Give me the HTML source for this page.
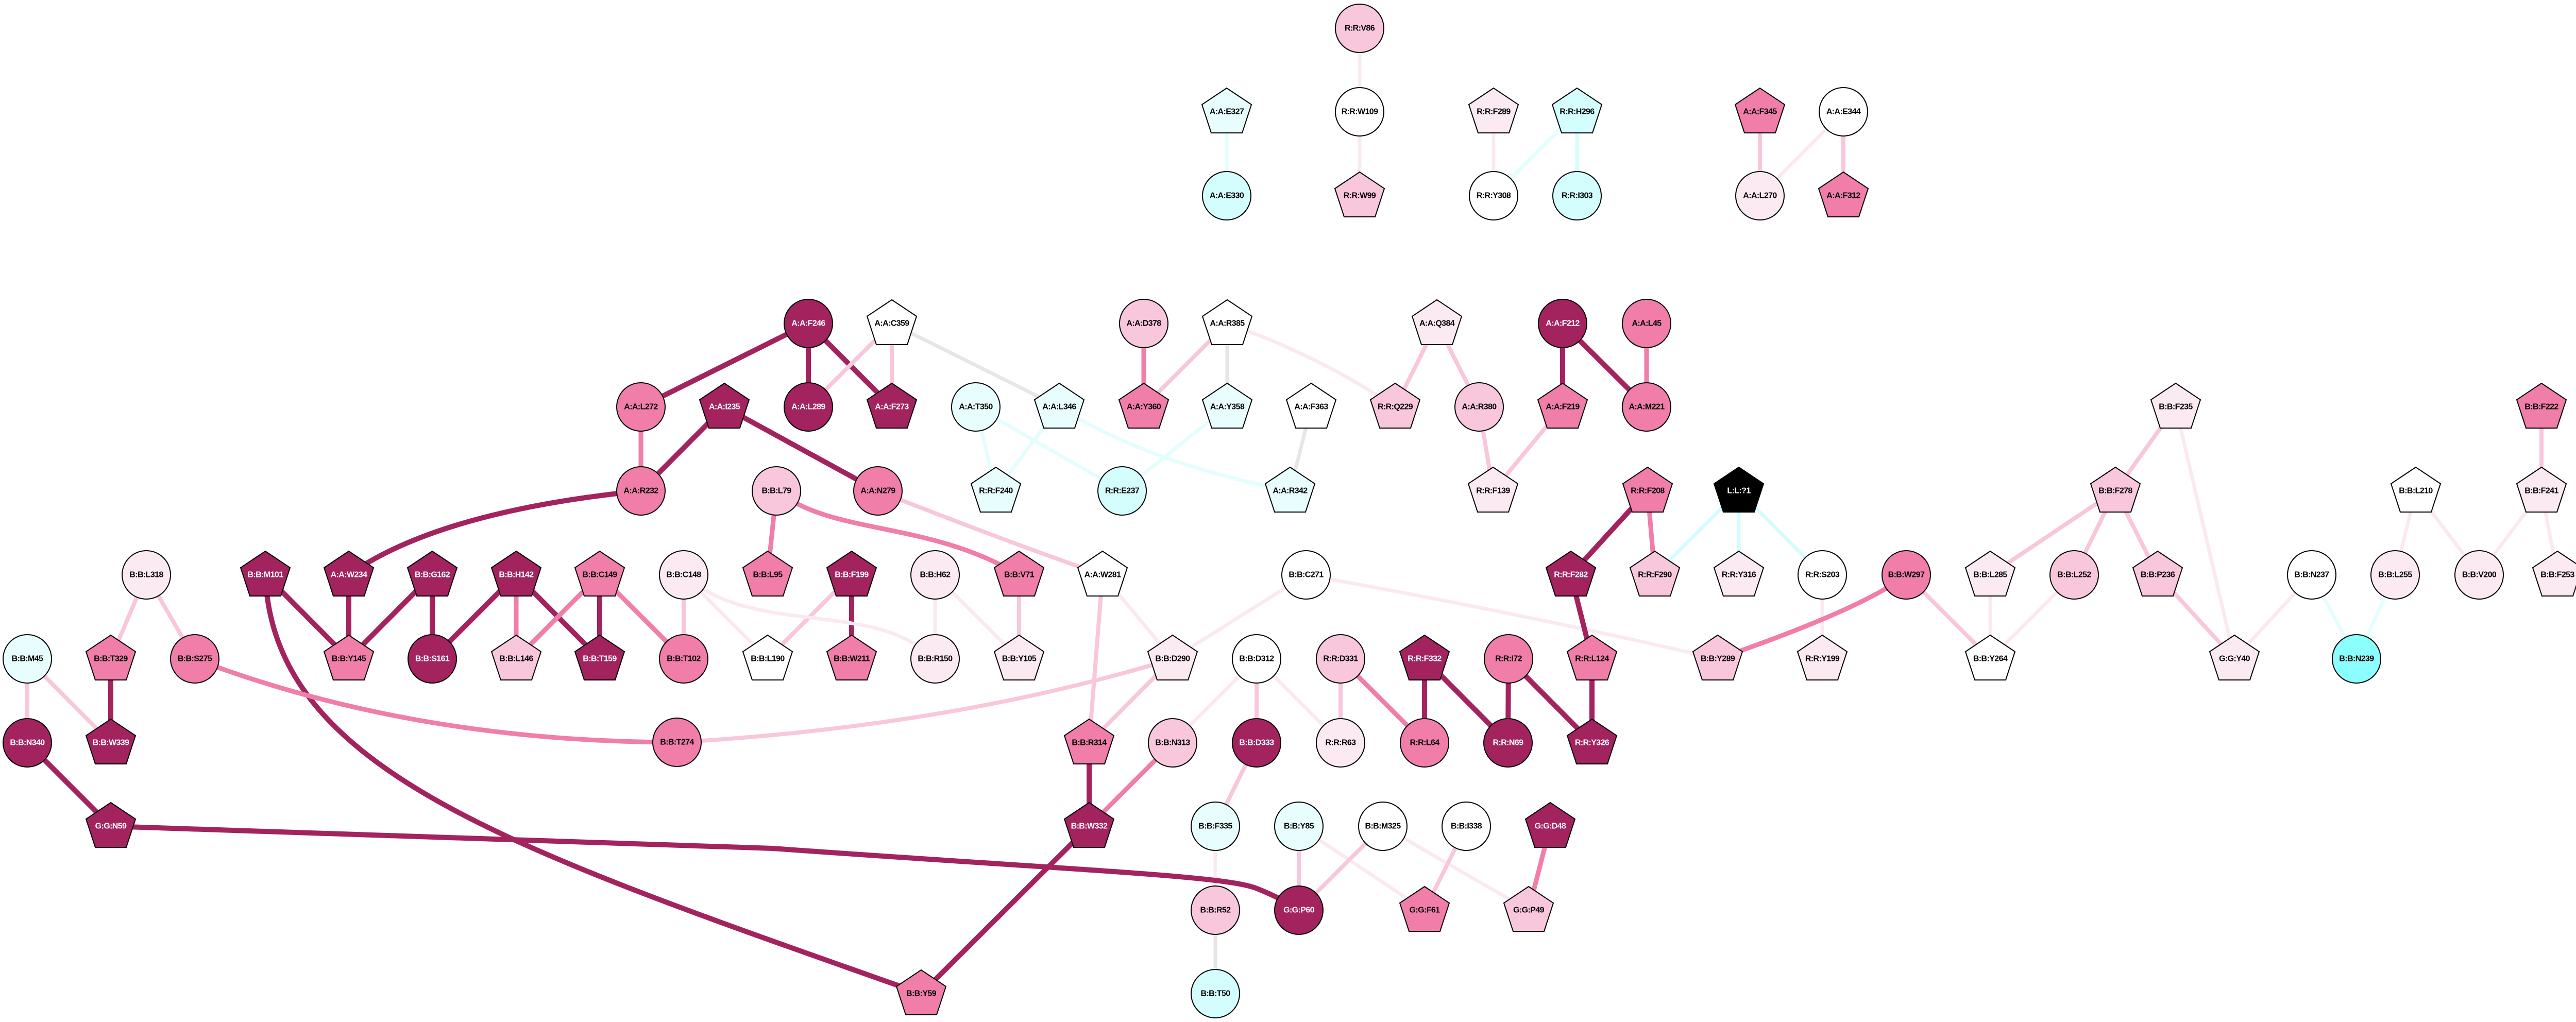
<!DOCTYPE html>
<html><head><meta charset="utf-8"><style>
html,body{margin:0;padding:0;background:#fff;overflow:hidden}
svg{display:block}
text{font-family:"Liberation Sans",sans-serif;font-weight:bold;font-size:16px;text-anchor:middle;dominant-baseline:central;fill:#000;letter-spacing:-0.6px}
.n circle,.n polygon{stroke:#000;stroke-width:2}
.d circle,.d polygon{fill:#a3235f}.d text{fill:#fff}
.m circle,.m polygon{fill:#f07ea9}
.p circle,.p polygon{fill:#f8c7dc}
.l circle,.l polygon{fill:#fbeaf2}
.w circle,.w polygon{fill:#fff}
.c circle,.c polygon{fill:#e8fdfd}
.y circle,.y polygon{fill:#d4fdfe}
.b circle,.b polygon{fill:#8afffe}
.k circle,.k polygon{fill:#000}.k text{fill:#fff}
line,path{fill:none;stroke-linecap:butt}
.ed{stroke:#a3235f;stroke-width:10}
.em{stroke:#f07ea9;stroke-width:9}
.ep{stroke:#f8c7dc;stroke-width:8}
.el{stroke:#fbe9f1;stroke-width:7}
.ec{stroke:#e4fdfd;stroke-width:7}
.ey{stroke:#d4fdfe;stroke-width:7}
.eg{stroke:#e6e6e6;stroke-width:7}
</style></head><body>
<svg width="5028" height="1984" viewBox="0 0 5028 1984" xmlns="http://www.w3.org/2000/svg">
<g>
<line class="el" x1="2639" y1="55" x2="2639" y2="217"/>
<line class="el" x1="2639" y1="217" x2="2639" y2="380"/>
<line class="ec" x1="2381" y1="217" x2="2381" y2="380"/>
<line class="el" x1="2899" y1="217" x2="2899" y2="380"/>
<line class="ec" x1="3061" y1="217" x2="2899" y2="380"/>
<line class="ey" x1="3061" y1="217" x2="3061" y2="380"/>
<line class="ep" x1="3416" y1="217" x2="3416" y2="380"/>
<line class="el" x1="3578" y1="217" x2="3416" y2="380"/>
<line class="ep" x1="3578" y1="217" x2="3578" y2="380"/>
<line class="ed" x1="1569" y1="628" x2="1244" y2="790"/>
<line class="ed" x1="1569" y1="628" x2="1569" y2="790"/>
<line class="ed" x1="1569" y1="628" x2="1731" y2="790"/>
<line class="ep" x1="1731" y1="628" x2="1569" y2="790"/>
<line class="ep" x1="1731" y1="628" x2="1731" y2="790"/>
<line class="eg" x1="1731" y1="628" x2="2056" y2="790"/>
<line class="em" x1="1244" y1="790" x2="1244" y2="953"/>
<line class="ed" x1="1406" y1="790" x2="1244" y2="953"/>
<line class="ed" x1="1406" y1="790" x2="1704" y2="953"/>
<path class="ed" d="M1244,953 Q850,993 677,1116"/>
<line class="ec" x1="1894" y1="790" x2="1933" y2="953"/>
<line class="ec" x1="1894" y1="790" x2="2178" y2="953"/>
<line class="ec" x1="2056" y1="790" x2="1933" y2="953"/>
<path class="ec" d="M2056,790 Q2230,900 2504,953"/>
<line class="em" x1="2220" y1="628" x2="2220" y2="790"/>
<line class="ep" x1="2382" y1="628" x2="2220" y2="790"/>
<line class="eg" x1="2382" y1="628" x2="2382" y2="790"/>
<path class="el" d="M2382,628 Q2560,690 2708,790"/>
<line class="ec" x1="2382" y1="790" x2="2178" y2="953"/>
<line class="eg" x1="2545" y1="790" x2="2504" y2="953"/>
<line class="ep" x1="2789" y1="628" x2="2708" y2="790"/>
<line class="ep" x1="2789" y1="628" x2="2871" y2="790"/>
<line class="ep" x1="2871" y1="790" x2="2898" y2="953"/>
<line class="ep" x1="3033" y1="790" x2="2898" y2="953"/>
<line class="ed" x1="3033" y1="628" x2="3033" y2="790"/>
<line class="ed" x1="3033" y1="628" x2="3196" y2="790"/>
<line class="em" x1="3196" y1="628" x2="3196" y2="790"/>
<line class="em" x1="1507" y1="953" x2="1490" y2="1116"/>
<path class="em" d="M1507,953 C1620,1040 1800,1010 1978,1116"/>
<path class="ep" d="M1704,953 Q1950,1050 2140,1116"/>
<line class="ed" x1="1653" y1="1116" x2="1653" y2="1279"/>
<line class="ep" x1="1653" y1="1116" x2="1490" y2="1279"/>
<line class="ep" x1="1327" y1="1116" x2="1327" y2="1279"/>
<line class="el" x1="1327" y1="1116" x2="1490" y2="1279"/>
<path class="el" d="M1327,1116 C1420,1200 1560,1190 1680,1215 Q1760,1230 1815,1279"/>
<line class="el" x1="1815" y1="1116" x2="1815" y2="1279"/>
<line class="el" x1="1815" y1="1116" x2="1978" y2="1279"/>
<line class="ep" x1="1978" y1="1116" x2="1978" y2="1279"/>
<line class="ep" x1="2140" y1="1116" x2="2114" y2="1442"/>
<line class="el" x1="2140" y1="1116" x2="2276" y2="1279"/>
<line class="el" x1="2535" y1="1116" x2="2276" y2="1279"/>
<path class="el" d="M2535,1116 Q2950,1190 3334,1279"/>
<path class="ep" d="M2276,1279 Q1850,1410 1314,1441"/>
<line class="ep" x1="2276" y1="1279" x2="2114" y2="1442"/>
<line class="el" x1="2439" y1="1279" x2="2276" y2="1442"/>
<line class="ep" x1="2439" y1="1279" x2="2439" y2="1442"/>
<line class="el" x1="2439" y1="1279" x2="2602" y2="1442"/>
<line class="ep" x1="2602" y1="1279" x2="2602" y2="1442"/>
<line class="em" x1="2602" y1="1279" x2="2765" y2="1442"/>
<line class="ed" x1="2765" y1="1279" x2="2765" y2="1442"/>
<line class="ed" x1="2765" y1="1279" x2="2927" y2="1442"/>
<line class="ed" x1="2928" y1="1279" x2="2927" y2="1442"/>
<line class="ed" x1="2928" y1="1279" x2="3090" y2="1442"/>
<line class="ed" x1="3090" y1="1279" x2="3090" y2="1442"/>
<line class="ed" x1="3049" y1="1116" x2="3090" y2="1279"/>
<line class="ed" x1="3198" y1="953" x2="3049" y2="1116"/>
<line class="em" x1="3198" y1="953" x2="3212" y2="1116"/>
<line class="ey" x1="3375" y1="953" x2="3212" y2="1116"/>
<line class="ey" x1="3375" y1="953" x2="3375" y2="1116"/>
<line class="ey" x1="3375" y1="953" x2="3537" y2="1116"/>
<line class="el" x1="3537" y1="1116" x2="3537" y2="1279"/>
<path class="em" d="M3700,1116 Q3620,1180 3334,1279"/>
<line class="ep" x1="3700" y1="1116" x2="3863" y2="1279"/>
<line class="el" x1="3863" y1="1116" x2="3863" y2="1279"/>
<line class="el" x1="4026" y1="1116" x2="3863" y2="1279"/>
<line class="ep" x1="4106" y1="953" x2="3863" y2="1116"/>
<line class="ep" x1="4106" y1="953" x2="4026" y2="1116"/>
<line class="ep" x1="4106" y1="953" x2="4188" y2="1116"/>
<line class="ep" x1="4223" y1="790" x2="4106" y2="953"/>
<line class="el" x1="4223" y1="790" x2="4337" y2="1279"/>
<line class="ep" x1="4188" y1="1116" x2="4337" y2="1279"/>
<line class="el" x1="4487" y1="1116" x2="4337" y2="1279"/>
<line class="ec" x1="4487" y1="1116" x2="4574" y2="1279"/>
<line class="ec" x1="4649" y1="1116" x2="4574" y2="1279"/>
<line class="el" x1="4689" y1="953" x2="4649" y2="1116"/>
<line class="el" x1="4689" y1="953" x2="4812" y2="1116"/>
<line class="el" x1="4933" y1="953" x2="4812" y2="1116"/>
<line class="el" x1="4933" y1="953" x2="4964" y2="1116"/>
<line class="ep" x1="4933" y1="790" x2="4933" y2="953"/>
<line class="ed" x1="2114" y1="1442" x2="2114" y2="1604"/>
<line class="em" x1="2276" y1="1442" x2="2114" y2="1604"/>
<line class="ep" x1="2439" y1="1442" x2="2359" y2="1604"/>
<line class="el" x1="2359" y1="1604" x2="2359" y2="1767"/>
<line class="eg" x1="2359" y1="1767" x2="2359" y2="1929"/>
<line class="ep" x1="2521" y1="1604" x2="2521" y2="1767"/>
<line class="el" x1="2521" y1="1604" x2="2765" y2="1767"/>
<line class="ep" x1="2684" y1="1604" x2="2521" y2="1767"/>
<line class="el" x1="2684" y1="1604" x2="2967" y2="1767"/>
<line class="ep" x1="2846" y1="1604" x2="2765" y2="1767"/>
<line class="em" x1="3009" y1="1604" x2="2967" y2="1767"/>
<line class="ed" x1="2114" y1="1604" x2="1788" y2="1929"/>
<path class="ed" d="M215,1604 L1500,1647 C2100,1690 2380,1700 2440,1725 Q2490,1745 2521,1767"/>
<path class="ed" d="M515,1116 C530,1500 1000,1650 1788,1929"/>
<line class="ep" x1="284" y1="1116" x2="215" y2="1279"/>
<line class="ep" x1="284" y1="1116" x2="378" y2="1279"/>
<line class="ep" x1="53" y1="1279" x2="53" y2="1442"/>
<line class="ep" x1="53" y1="1279" x2="215" y2="1442"/>
<line class="ed" x1="215" y1="1279" x2="215" y2="1442"/>
<line class="ed" x1="53" y1="1442" x2="215" y2="1604"/>
<path class="em" d="M378,1279 Q800,1440 1314,1441"/>
<line class="ed" x1="515" y1="1116" x2="677" y2="1279"/>
<line class="ed" x1="677" y1="1116" x2="677" y2="1279"/>
<line class="ed" x1="839" y1="1116" x2="677" y2="1279"/>
<line class="ed" x1="839" y1="1116" x2="839" y2="1279"/>
<line class="ed" x1="1002" y1="1116" x2="839" y2="1279"/>
<line class="em" x1="1002" y1="1116" x2="1002" y2="1279"/>
<line class="ed" x1="1002" y1="1116" x2="1164" y2="1279"/>
<line class="em" x1="1164" y1="1116" x2="1002" y2="1279"/>
<line class="ed" x1="1164" y1="1116" x2="1164" y2="1279"/>
<line class="em" x1="1164" y1="1116" x2="1327" y2="1279"/>
</g>
<g class="nodes">
<g class="n p" transform="translate(2639,55)"><circle r="47"/><text>R:R:V86</text></g>
<g class="n w" transform="translate(2639,217)"><circle r="47"/><text>R:R:W109</text></g>
<g class="n p" transform="translate(2639,380)"><polygon points="0,-46 48,-14 30,41 -30,41 -48,-14"/><text>R:R:W99</text></g>
<g class="n c" transform="translate(2381,217)"><polygon points="0,-46 48,-14 30,41 -30,41 -48,-14"/><text>A:A:E327</text></g>
<g class="n y" transform="translate(2381,380)"><circle r="47"/><text>A:A:E330</text></g>
<g class="n l" transform="translate(2899,217)"><polygon points="0,-46 48,-14 30,41 -30,41 -48,-14"/><text>R:R:F289</text></g>
<g class="n w" transform="translate(2899,380)"><circle r="47"/><text>R:R:Y308</text></g>
<g class="n y" transform="translate(3061,217)"><polygon points="0,-46 48,-14 30,41 -30,41 -48,-14"/><text>R:R:H296</text></g>
<g class="n y" transform="translate(3061,380)"><circle r="47"/><text>R:R:I303</text></g>
<g class="n m" transform="translate(3416,217)"><polygon points="0,-46 48,-14 30,41 -30,41 -48,-14"/><text>A:A:F345</text></g>
<g class="n w" transform="translate(3578,217)"><circle r="47"/><text>A:A:E344</text></g>
<g class="n l" transform="translate(3416,380)"><circle r="47"/><text>A:A:L270</text></g>
<g class="n m" transform="translate(3578,380)"><polygon points="0,-46 48,-14 30,41 -30,41 -48,-14"/><text>A:A:F312</text></g>
<g class="n d" transform="translate(1569,628)"><circle r="47"/><text>A:A:F246</text></g>
<g class="n w" transform="translate(1731,628)"><polygon points="0,-46 48,-14 30,41 -30,41 -48,-14"/><text>A:A:C359</text></g>
<g class="n p" transform="translate(2220,628)"><circle r="47"/><text>A:A:D378</text></g>
<g class="n w" transform="translate(2382,628)"><polygon points="0,-46 48,-14 30,41 -30,41 -48,-14"/><text>A:A:R385</text></g>
<g class="n l" transform="translate(2789,628)"><polygon points="0,-46 48,-14 30,41 -30,41 -48,-14"/><text>A:A:Q384</text></g>
<g class="n d" transform="translate(3033,628)"><circle r="47"/><text>A:A:F212</text></g>
<g class="n m" transform="translate(3196,628)"><circle r="47"/><text>A:A:L45</text></g>
<g class="n m" transform="translate(1244,790)"><circle r="47"/><text>A:A:L272</text></g>
<g class="n d" transform="translate(1406,790)"><polygon points="0,-46 48,-14 30,41 -30,41 -48,-14"/><text>A:A:I235</text></g>
<g class="n d" transform="translate(1569,790)"><circle r="47"/><text>A:A:L289</text></g>
<g class="n d" transform="translate(1731,790)"><polygon points="0,-46 48,-14 30,41 -30,41 -48,-14"/><text>A:A:F273</text></g>
<g class="n c" transform="translate(1894,790)"><circle r="47"/><text>A:A:T350</text></g>
<g class="n c" transform="translate(2056,790)"><polygon points="0,-46 48,-14 30,41 -30,41 -48,-14"/><text>A:A:L346</text></g>
<g class="n m" transform="translate(2220,790)"><polygon points="0,-46 48,-14 30,41 -30,41 -48,-14"/><text>A:A:Y360</text></g>
<g class="n c" transform="translate(2382,790)"><polygon points="0,-46 48,-14 30,41 -30,41 -48,-14"/><text>A:A:Y358</text></g>
<g class="n w" transform="translate(2545,790)"><polygon points="0,-46 48,-14 30,41 -30,41 -48,-14"/><text>A:A:F363</text></g>
<g class="n p" transform="translate(2708,790)"><polygon points="0,-46 48,-14 30,41 -30,41 -48,-14"/><text>R:R:Q229</text></g>
<g class="n p" transform="translate(2871,790)"><circle r="47"/><text>A:A:R380</text></g>
<g class="n m" transform="translate(3033,790)"><polygon points="0,-46 48,-14 30,41 -30,41 -48,-14"/><text>A:A:F219</text></g>
<g class="n m" transform="translate(3196,790)"><circle r="47"/><text>A:A:M221</text></g>
<g class="n l" transform="translate(4223,790)"><polygon points="0,-46 48,-14 30,41 -30,41 -48,-14"/><text>B:B:F235</text></g>
<g class="n m" transform="translate(4933,790)"><polygon points="0,-46 48,-14 30,41 -30,41 -48,-14"/><text>B:B:F222</text></g>
<g class="n m" transform="translate(1244,953)"><circle r="47"/><text>A:A:R232</text></g>
<g class="n p" transform="translate(1507,953)"><circle r="47"/><text>B:B:L79</text></g>
<g class="n m" transform="translate(1704,953)"><circle r="47"/><text>A:A:N279</text></g>
<g class="n c" transform="translate(1933,953)"><polygon points="0,-46 48,-14 30,41 -30,41 -48,-14"/><text>R:R:F240</text></g>
<g class="n y" transform="translate(2178,953)"><circle r="47"/><text>R:R:E237</text></g>
<g class="n c" transform="translate(2504,953)"><polygon points="0,-46 48,-14 30,41 -30,41 -48,-14"/><text>A:A:R342</text></g>
<g class="n l" transform="translate(2898,953)"><polygon points="0,-46 48,-14 30,41 -30,41 -48,-14"/><text>R:R:F139</text></g>
<g class="n m" transform="translate(3198,953)"><polygon points="0,-46 48,-14 30,41 -30,41 -48,-14"/><text>R:R:F208</text></g>
<g class="n k" transform="translate(3375,953)"><polygon points="0,-46 48,-14 30,41 -30,41 -48,-14"/><text>L:L:?1</text></g>
<g class="n p" transform="translate(4106,953)"><polygon points="0,-46 48,-14 30,41 -30,41 -48,-14"/><text>B:B:F278</text></g>
<g class="n w" transform="translate(4689,953)"><polygon points="0,-46 48,-14 30,41 -30,41 -48,-14"/><text>B:B:L210</text></g>
<g class="n l" transform="translate(4933,953)"><polygon points="0,-46 48,-14 30,41 -30,41 -48,-14"/><text>B:B:F241</text></g>
<g class="n l" transform="translate(284,1116)"><circle r="47"/><text>B:B:L318</text></g>
<g class="n d" transform="translate(515,1116)"><polygon points="0,-46 48,-14 30,41 -30,41 -48,-14"/><text>B:B:M101</text></g>
<g class="n d" transform="translate(677,1116)"><polygon points="0,-46 48,-14 30,41 -30,41 -48,-14"/><text>A:A:W234</text></g>
<g class="n d" transform="translate(839,1116)"><polygon points="0,-46 48,-14 30,41 -30,41 -48,-14"/><text>B:B:G162</text></g>
<g class="n d" transform="translate(1002,1116)"><polygon points="0,-46 48,-14 30,41 -30,41 -48,-14"/><text>B:B:H142</text></g>
<g class="n m" transform="translate(1164,1116)"><polygon points="0,-46 48,-14 30,41 -30,41 -48,-14"/><text>B:B:C149</text></g>
<g class="n l" transform="translate(1327,1116)"><circle r="47"/><text>B:B:C148</text></g>
<g class="n m" transform="translate(1490,1116)"><polygon points="0,-46 48,-14 30,41 -30,41 -48,-14"/><text>B:B:L95</text></g>
<g class="n d" transform="translate(1653,1116)"><polygon points="0,-46 48,-14 30,41 -30,41 -48,-14"/><text>B:B:F199</text></g>
<g class="n l" transform="translate(1815,1116)"><circle r="47"/><text>B:B:H62</text></g>
<g class="n m" transform="translate(1978,1116)"><polygon points="0,-46 48,-14 30,41 -30,41 -48,-14"/><text>B:B:V71</text></g>
<g class="n w" transform="translate(2140,1116)"><polygon points="0,-46 48,-14 30,41 -30,41 -48,-14"/><text>A:A:W281</text></g>
<g class="n w" transform="translate(2535,1116)"><circle r="47"/><text>B:B:C271</text></g>
<g class="n d" transform="translate(3049,1116)"><polygon points="0,-46 48,-14 30,41 -30,41 -48,-14"/><text>R:R:F282</text></g>
<g class="n p" transform="translate(3212,1116)"><polygon points="0,-46 48,-14 30,41 -30,41 -48,-14"/><text>R:R:F290</text></g>
<g class="n l" transform="translate(3375,1116)"><polygon points="0,-46 48,-14 30,41 -30,41 -48,-14"/><text>R:R:Y316</text></g>
<g class="n w" transform="translate(3537,1116)"><circle r="47"/><text>R:R:S203</text></g>
<g class="n m" transform="translate(3700,1116)"><circle r="47"/><text>B:B:W297</text></g>
<g class="n l" transform="translate(3863,1116)"><polygon points="0,-46 48,-14 30,41 -30,41 -48,-14"/><text>B:B:L285</text></g>
<g class="n p" transform="translate(4026,1116)"><circle r="47"/><text>B:B:L252</text></g>
<g class="n p" transform="translate(4188,1116)"><polygon points="0,-46 48,-14 30,41 -30,41 -48,-14"/><text>B:B:P236</text></g>
<g class="n w" transform="translate(4487,1116)"><circle r="47"/><text>B:B:N237</text></g>
<g class="n l" transform="translate(4649,1116)"><circle r="47"/><text>B:B:L255</text></g>
<g class="n l" transform="translate(4812,1116)"><circle r="47"/><text>B:B:V200</text></g>
<g class="n l" transform="translate(4964,1116)"><polygon points="0,-46 48,-14 30,41 -30,41 -48,-14"/><text>B:B:F253</text></g>
<g class="n c" transform="translate(53,1279)"><circle r="47"/><text>B:B:M45</text></g>
<g class="n m" transform="translate(215,1279)"><polygon points="0,-46 48,-14 30,41 -30,41 -48,-14"/><text>B:B:T329</text></g>
<g class="n m" transform="translate(378,1279)"><circle r="47"/><text>B:B:S275</text></g>
<g class="n m" transform="translate(677,1279)"><polygon points="0,-46 48,-14 30,41 -30,41 -48,-14"/><text>B:B:Y145</text></g>
<g class="n d" transform="translate(839,1279)"><circle r="47"/><text>B:B:S161</text></g>
<g class="n p" transform="translate(1002,1279)"><polygon points="0,-46 48,-14 30,41 -30,41 -48,-14"/><text>B:B:L146</text></g>
<g class="n d" transform="translate(1164,1279)"><polygon points="0,-46 48,-14 30,41 -30,41 -48,-14"/><text>B:B:T159</text></g>
<g class="n m" transform="translate(1327,1279)"><circle r="47"/><text>B:B:T102</text></g>
<g class="n w" transform="translate(1490,1279)"><polygon points="0,-46 48,-14 30,41 -30,41 -48,-14"/><text>B:B:L190</text></g>
<g class="n m" transform="translate(1653,1279)"><polygon points="0,-46 48,-14 30,41 -30,41 -48,-14"/><text>B:B:W211</text></g>
<g class="n l" transform="translate(1815,1279)"><circle r="47"/><text>B:B:R150</text></g>
<g class="n l" transform="translate(1978,1279)"><polygon points="0,-46 48,-14 30,41 -30,41 -48,-14"/><text>B:B:Y105</text></g>
<g class="n l" transform="translate(2276,1279)"><polygon points="0,-46 48,-14 30,41 -30,41 -48,-14"/><text>B:B:D290</text></g>
<g class="n w" transform="translate(2439,1279)"><circle r="47"/><text>B:B:D312</text></g>
<g class="n p" transform="translate(2602,1279)"><circle r="47"/><text>R:R:D331</text></g>
<g class="n d" transform="translate(2765,1279)"><polygon points="0,-46 48,-14 30,41 -30,41 -48,-14"/><text>R:R:F332</text></g>
<g class="n m" transform="translate(2928,1279)"><circle r="47"/><text>R:R:I72</text></g>
<g class="n m" transform="translate(3090,1279)"><polygon points="0,-46 48,-14 30,41 -30,41 -48,-14"/><text>R:R:L124</text></g>
<g class="n p" transform="translate(3334,1279)"><polygon points="0,-46 48,-14 30,41 -30,41 -48,-14"/><text>B:B:Y289</text></g>
<g class="n l" transform="translate(3537,1279)"><polygon points="0,-46 48,-14 30,41 -30,41 -48,-14"/><text>R:R:Y199</text></g>
<g class="n w" transform="translate(3863,1279)"><polygon points="0,-46 48,-14 30,41 -30,41 -48,-14"/><text>B:B:Y264</text></g>
<g class="n l" transform="translate(4337,1279)"><polygon points="0,-46 48,-14 30,41 -30,41 -48,-14"/><text>G:G:Y40</text></g>
<g class="n b" transform="translate(4574,1279)"><circle r="47"/><text>B:B:N239</text></g>
<g class="n d" transform="translate(53,1442)"><circle r="47"/><text>B:B:N340</text></g>
<g class="n d" transform="translate(215,1442)"><polygon points="0,-46 48,-14 30,41 -30,41 -48,-14"/><text>B:B:W339</text></g>
<g class="n m" transform="translate(1314,1441)"><circle r="47"/><text>B:B:T274</text></g>
<g class="n m" transform="translate(2114,1442)"><polygon points="0,-46 48,-14 30,41 -30,41 -48,-14"/><text>B:B:R314</text></g>
<g class="n p" transform="translate(2276,1442)"><circle r="47"/><text>B:B:N313</text></g>
<g class="n d" transform="translate(2439,1442)"><circle r="47"/><text>B:B:D333</text></g>
<g class="n l" transform="translate(2602,1442)"><circle r="47"/><text>R:R:R63</text></g>
<g class="n m" transform="translate(2765,1442)"><circle r="47"/><text>R:R:L64</text></g>
<g class="n d" transform="translate(2927,1442)"><circle r="47"/><text>R:R:N69</text></g>
<g class="n d" transform="translate(3090,1442)"><polygon points="0,-46 48,-14 30,41 -30,41 -48,-14"/><text>R:R:Y326</text></g>
<g class="n d" transform="translate(215,1604)"><polygon points="0,-46 48,-14 30,41 -30,41 -48,-14"/><text>G:G:N59</text></g>
<g class="n d" transform="translate(2114,1604)"><polygon points="0,-46 48,-14 30,41 -30,41 -48,-14"/><text>B:B:W332</text></g>
<g class="n c" transform="translate(2359,1604)"><circle r="47"/><text>B:B:F335</text></g>
<g class="n c" transform="translate(2521,1604)"><circle r="47"/><text>B:B:Y85</text></g>
<g class="n w" transform="translate(2684,1604)"><circle r="47"/><text>B:B:M325</text></g>
<g class="n w" transform="translate(2846,1604)"><circle r="47"/><text>B:B:I338</text></g>
<g class="n d" transform="translate(3009,1604)"><polygon points="0,-46 48,-14 30,41 -30,41 -48,-14"/><text>G:G:D48</text></g>
<g class="n p" transform="translate(2359,1767)"><circle r="47"/><text>B:B:R52</text></g>
<g class="n d" transform="translate(2521,1767)"><circle r="47"/><text>G:G:P60</text></g>
<g class="n m" transform="translate(2765,1767)"><polygon points="0,-46 48,-14 30,41 -30,41 -48,-14"/><text>G:G:F61</text></g>
<g class="n p" transform="translate(2967,1767)"><polygon points="0,-46 48,-14 30,41 -30,41 -48,-14"/><text>G:G:P49</text></g>
<g class="n m" transform="translate(1788,1929)"><polygon points="0,-46 48,-14 30,41 -30,41 -48,-14"/><text>B:B:Y59</text></g>
<g class="n y" transform="translate(2359,1929)"><circle r="47"/><text>B:B:T50</text></g>
</g>
</svg>
</body></html>
